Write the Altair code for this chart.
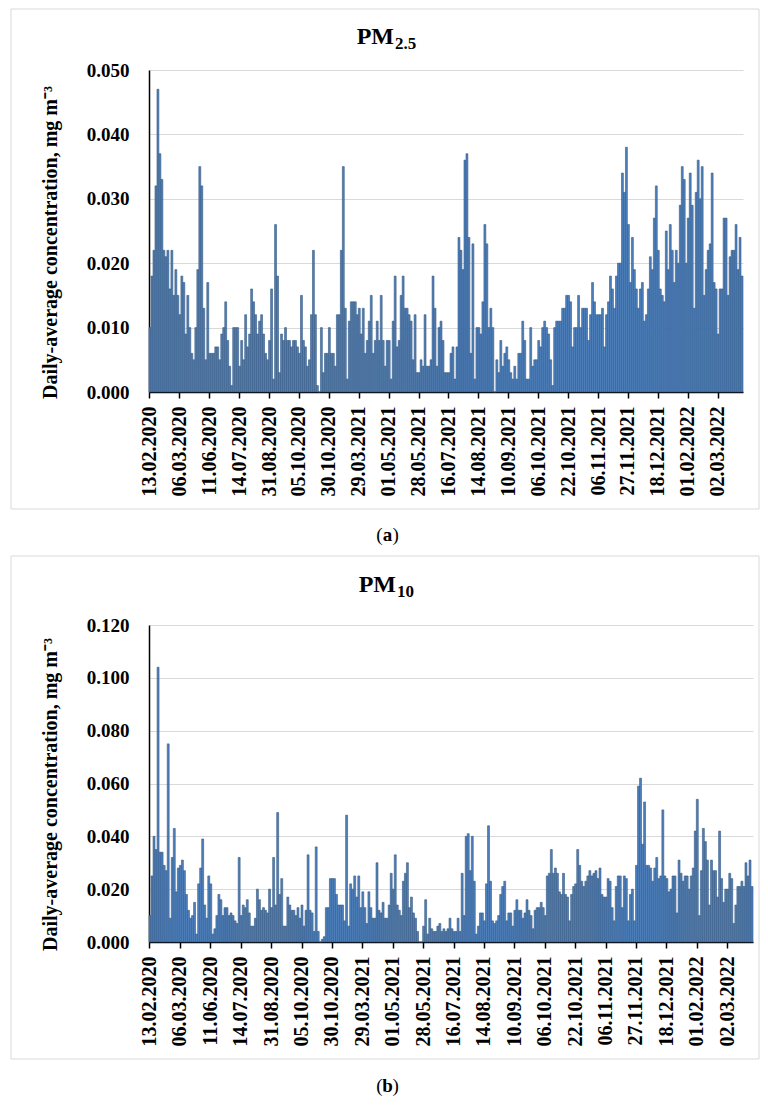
import altair as alt
import pandas as pd

# ---------------- data ----------------
tick_labels = ["13.02.2020", "06.03.2020", "11.06.2020", "14.07.2020", "31.08.2020",
               "05.10.2020", "30.10.2020", "29.03.2021", "01.05.2021", "28.05.2021",
               "16.07.2021", "14.08.2021", "10.09.2021", "06.10.2021", "22.10.2021",
               "06.11.2021", "27.11.2021", "18.12.2021", "01.02.2022", "02.03.2022"]

# PM2.5 daily averages, mg m-3 (15 days per labelled interval)
pm25_part1 = [0.010, 0.018, 0.022, 0.032, 0.047, 0.037, 0.033, 0.022, 0.021, 0.022, 0.016, 0.022, 0.015, 0.019, 0.015,
              0.012, 0.018, 0.017, 0.009, 0.015, 0.010, 0.006, 0.005, 0.010, 0.019, 0.035, 0.032, 0.013, 0.005, 0.017,
              0.006, 0.006, 0.006, 0.007, 0.007, 0.005, 0.009, 0.010, 0.014, 0.008, 0.004, 0.001, 0.010, 0.010, 0.010,
              0.004, 0.008, 0.005, 0.012, 0.007, 0.009, 0.016, 0.014, 0.012, 0.009, 0.011, 0.012, 0.009, 0.006, 0.005,
              0.008, 0.016, 0.002, 0.026, 0.018, 0.003, 0.009, 0.008, 0.010, 0.008, 0.008, 0.007, 0.008, 0.008, 0.007]
pm25_part2 = [0.006, 0.015, 0.008, 0.007, 0.004, 0.005, 0.012, 0.022, 0.012, 0.001, 0.000, 0.010, 0.003, 0.006, 0.006,
              0.010, 0.006, 0.006, 0.004, 0.012, 0.012, 0.022, 0.035, 0.013, 0.002, 0.011, 0.014, 0.014, 0.014, 0.012,
              0.013, 0.009, 0.013, 0.006, 0.008, 0.011, 0.015, 0.006, 0.008, 0.011, 0.008, 0.015, 0.008, 0.004, 0.008,
              0.008, 0.002, 0.011, 0.018, 0.007, 0.008, 0.015, 0.018, 0.013, 0.013, 0.012, 0.011, 0.005, 0.012, 0.003,
              0.003, 0.005, 0.004, 0.012, 0.004, 0.004, 0.005, 0.018, 0.013, 0.004, 0.010, 0.011, 0.008, 0.003, 0.003]
pm25_part3 = [0.003, 0.006, 0.007, 0.002, 0.007, 0.024, 0.022, 0.019, 0.036, 0.037, 0.024, 0.006, 0.023, 0.002, 0.010,
              0.010, 0.009, 0.014, 0.026, 0.023, 0.010, 0.013, 0.010, 0.000, 0.005, 0.003, 0.008, 0.004, 0.006, 0.007,
              0.005, 0.003, 0.002, 0.004, 0.002, 0.006, 0.006, 0.011, 0.008, 0.002, 0.002, 0.010, 0.004, 0.005, 0.005,
              0.008, 0.007, 0.010, 0.011, 0.010, 0.009, 0.005, 0.001, 0.010, 0.011, 0.011, 0.011, 0.013, 0.013, 0.015,
              0.015, 0.014, 0.007, 0.010, 0.010, 0.015, 0.010, 0.013, 0.013, 0.013, 0.008, 0.012, 0.017, 0.014, 0.012]
pm25_part4 = [0.012, 0.012, 0.013, 0.007, 0.012, 0.014, 0.018, 0.016, 0.013, 0.018, 0.020, 0.020, 0.034, 0.031, 0.038,
              0.026, 0.017, 0.024, 0.019, 0.016, 0.013, 0.016, 0.017, 0.011, 0.012, 0.016, 0.021, 0.019, 0.027, 0.032,
              0.022, 0.016, 0.015, 0.014, 0.025, 0.019, 0.026, 0.022, 0.017, 0.022, 0.020, 0.029, 0.035, 0.033, 0.020,
              0.027, 0.034, 0.029, 0.013, 0.031, 0.036, 0.030, 0.035, 0.015, 0.019, 0.022, 0.023, 0.034, 0.017, 0.016,
              0.009, 0.016, 0.016, 0.027, 0.027, 0.015, 0.021, 0.022, 0.022, 0.026, 0.019, 0.024, 0.018]

# PM10 daily averages, mg m-3
pm10_part1 = [0.010, 0.025, 0.040, 0.035, 0.104, 0.034, 0.034, 0.029, 0.027, 0.075, 0.009, 0.032, 0.043, 0.019, 0.028,
              0.029, 0.031, 0.027, 0.018, 0.012, 0.009, 0.010, 0.015, 0.003, 0.022, 0.028, 0.039, 0.014, 0.009, 0.025,
              0.022, 0.003, 0.005, 0.010, 0.018, 0.016, 0.010, 0.013, 0.013, 0.010, 0.011, 0.010, 0.008, 0.007, 0.032,
              0.010, 0.014, 0.013, 0.016, 0.011, 0.006, 0.006, 0.009, 0.020, 0.016, 0.012, 0.013, 0.012, 0.011, 0.020,
              0.013, 0.032, 0.014, 0.049, 0.018, 0.024, 0.006, 0.006, 0.017, 0.014, 0.012, 0.012, 0.010, 0.013, 0.009]
pm10_part2 = [0.014, 0.006, 0.012, 0.033, 0.012, 0.011, 0.004, 0.036, 0.004, 0.000, 0.001, 0.002, 0.013, 0.013, 0.024,
              0.024, 0.024, 0.018, 0.014, 0.014, 0.014, 0.008, 0.048, 0.006, 0.022, 0.020, 0.025, 0.017, 0.025, 0.013,
              0.019, 0.013, 0.007, 0.019, 0.013, 0.009, 0.009, 0.030, 0.012, 0.011, 0.015, 0.009, 0.009, 0.014, 0.026,
              0.020, 0.033, 0.014, 0.012, 0.010, 0.023, 0.026, 0.030, 0.013, 0.017, 0.011, 0.009, 0.004, 0.000, 0.000,
              0.006, 0.016, 0.003, 0.009, 0.005, 0.004, 0.004, 0.006, 0.007, 0.004, 0.005, 0.004, 0.005, 0.009, 0.005]
pm10_part3 = [0.004, 0.004, 0.009, 0.004, 0.026, 0.010, 0.040, 0.041, 0.027, 0.040, 0.023, 0.003, 0.006, 0.011, 0.011,
              0.008, 0.022, 0.044, 0.023, 0.008, 0.007, 0.008, 0.010, 0.018, 0.021, 0.023, 0.008, 0.011, 0.011, 0.006,
              0.012, 0.016, 0.012, 0.012, 0.009, 0.011, 0.016, 0.012, 0.010, 0.005, 0.012, 0.013, 0.013, 0.015, 0.013,
              0.010, 0.025, 0.026, 0.035, 0.026, 0.028, 0.026, 0.019, 0.018, 0.026, 0.018, 0.017, 0.008, 0.018, 0.021,
              0.022, 0.035, 0.029, 0.023, 0.021, 0.023, 0.025, 0.027, 0.025, 0.026, 0.027, 0.024, 0.028, 0.018, 0.017]
pm10_part4 = [0.017, 0.024, 0.023, 0.013, 0.008, 0.021, 0.025, 0.025, 0.013, 0.025, 0.024, 0.008, 0.018, 0.020, 0.008,
              0.029, 0.059, 0.062, 0.037, 0.053, 0.029, 0.029, 0.028, 0.023, 0.028, 0.032, 0.024, 0.025, 0.050, 0.025,
              0.024, 0.019, 0.020, 0.025, 0.025, 0.011, 0.031, 0.026, 0.023, 0.025, 0.025, 0.020, 0.025, 0.028, 0.042,
              0.054, 0.010, 0.027, 0.043, 0.038, 0.031, 0.014, 0.031, 0.027, 0.027, 0.017, 0.042, 0.024, 0.015, 0.020,
              0.020, 0.026, 0.024, 0.007, 0.014, 0.021, 0.021, 0.023, 0.021, 0.030, 0.025, 0.031, 0.021]

pm25 = pm25_part1 + pm25_part2 + pm25_part3 + pm25_part4
pm10 = pm10_part1 + pm10_part2 + pm10_part3 + pm10_part4

TICK_EVERY = 15
Y_TITLE = "Daily-average concentration, mg m\u207b\u00b3"

# ---------------- style ----------------
FONT = "Liberation Serif"
BAR_FILL = "#4f81bd"
BAR_STROKE = "#34587f"
GRID = "#d9d9d9"


def make_panel(vals, ymax, ystep, plot_w, plot_h, sub, title_x, title_base, sub_base,
               box_top, box_bottom, ext_top, ext_bottom, cap_letter, cap_base, ytitle_y):
    df = pd.DataFrame({"i": list(range(len(vals))), "v": vals})
    tick_idx = [k * TICK_EVERY for k in range(len(tick_labels)) if k * TICK_EVERY < len(vals)]
    label_expr = "[" + ",".join("'%s'" % t for t in tick_labels) + "][floor(datum.value/%d)]" % TICK_EVERY
    n_ticks = int(round(ymax / ystep))
    y_vals = [round(k * ystep, 3) for k in range(n_ticks + 1)]

    bars = alt.Chart(df).mark_bar(fill=BAR_FILL, stroke=BAR_STROKE, strokeWidth=0.6).encode(
        x=alt.X("i:O", title=None,
                scale=alt.Scale(paddingInner=0.05, paddingOuter=0),
                axis=alt.Axis(values=tick_idx, labelExpr=label_expr, labelAngle=270,
                              labelFont=FONT, labelFontWeight="bold", labelFontSize=20,
                              labelColor="black", labelPadding=8, labelOverlap=False,
                              domainColor="black", domainWidth=1.5,
                              tickColor="black", tickWidth=1.5, tickSize=6, grid=False)),
        y=alt.Y("v:Q", title=Y_TITLE,
                scale=alt.Scale(domain=[0, ymax], nice=False, zero=True),
                axis=alt.Axis(values=y_vals, format=".3f",
                              labelFont=FONT, labelFontWeight="bold", labelFontSize=19,
                              labelColor="black", labelPadding=20,
                              ticks=False, tickSize=0,
                              domainColor="black", domainWidth=1.5,
                              grid=True, gridColor=GRID, gridWidth=1,
                              titleFont=FONT, titleFontWeight="bold", titleFontSize=20,
                              titleColor="black", titleAngle=270, titleX=-93, titleY=ytitle_y,
                              titleBaseline="alphabetic", titleAlign="center")),
    )

    one = pd.DataFrame({"k": [0]})
    extent = alt.Chart(one).mark_rect(fill="white", stroke=None).encode(
        x=alt.value(-138), x2=alt.value(-137), y=alt.value(ext_top), y2=alt.value(ext_bottom))
    border = alt.Chart(one).mark_rect(filled=False, stroke=GRID, strokeWidth=1).encode(
        x=alt.value(-138), x2=alt.value(610), y=alt.value(box_top), y2=alt.value(box_bottom))
    t_main = alt.Chart(one).mark_text(font=FONT, fontWeight="bold", fontSize=24, align="right",
                                      baseline="alphabetic", color="black").encode(
        x=alt.value(title_x), y=alt.value(title_base), text=alt.value("PM"))
    t_sub = alt.Chart(one).mark_text(font=FONT, fontWeight="bold", fontSize=17, align="left",
                                     baseline="alphabetic", color="black").encode(
        x=alt.value(title_x + 1), y=alt.value(sub_base), text=alt.value(sub))
    cx = 238.5
    c_open = alt.Chart(one).mark_text(font=FONT, fontSize=19, align="right", baseline="alphabetic",
                                      color="black").encode(
        x=alt.value(cx - 5), y=alt.value(cap_base), text=alt.value("("))
    c_mid = alt.Chart(one).mark_text(font=FONT, fontSize=19, fontWeight="bold", align="center",
                                     baseline="alphabetic", color="black").encode(
        x=alt.value(cx), y=alt.value(cap_base), text=alt.value(cap_letter))
    c_close = alt.Chart(one).mark_text(font=FONT, fontSize=19, align="left", baseline="alphabetic",
                                       color="black").encode(
        x=alt.value(cx + 5), y=alt.value(cap_base), text=alt.value(")"))

    return alt.layer(extent, border, bars, t_main, t_sub, c_open, c_mid, c_close).properties(
        width=plot_w, height=plot_h)


panel_a = make_panel(pm25, 0.05, 0.01, 594, 322, "2.5", 245, -26, -21.5,
                     -61, 439, -61, 479, "a", 471, 172)
panel_b = make_panel(pm10, 0.12, 0.02, 604, 317, "10", 247, -33, -28,
                     -69, 434, -76, 476, "b", 467, 169)

chart = alt.vconcat(panel_a, panel_b, spacing=0).properties(
    padding={"left": 2, "top": 0, "right": 0, "bottom": 0},
    background="white",
).configure_view(stroke=None)

chart.save("out.html", embed_options={"renderer": "svg", "actions": False})
